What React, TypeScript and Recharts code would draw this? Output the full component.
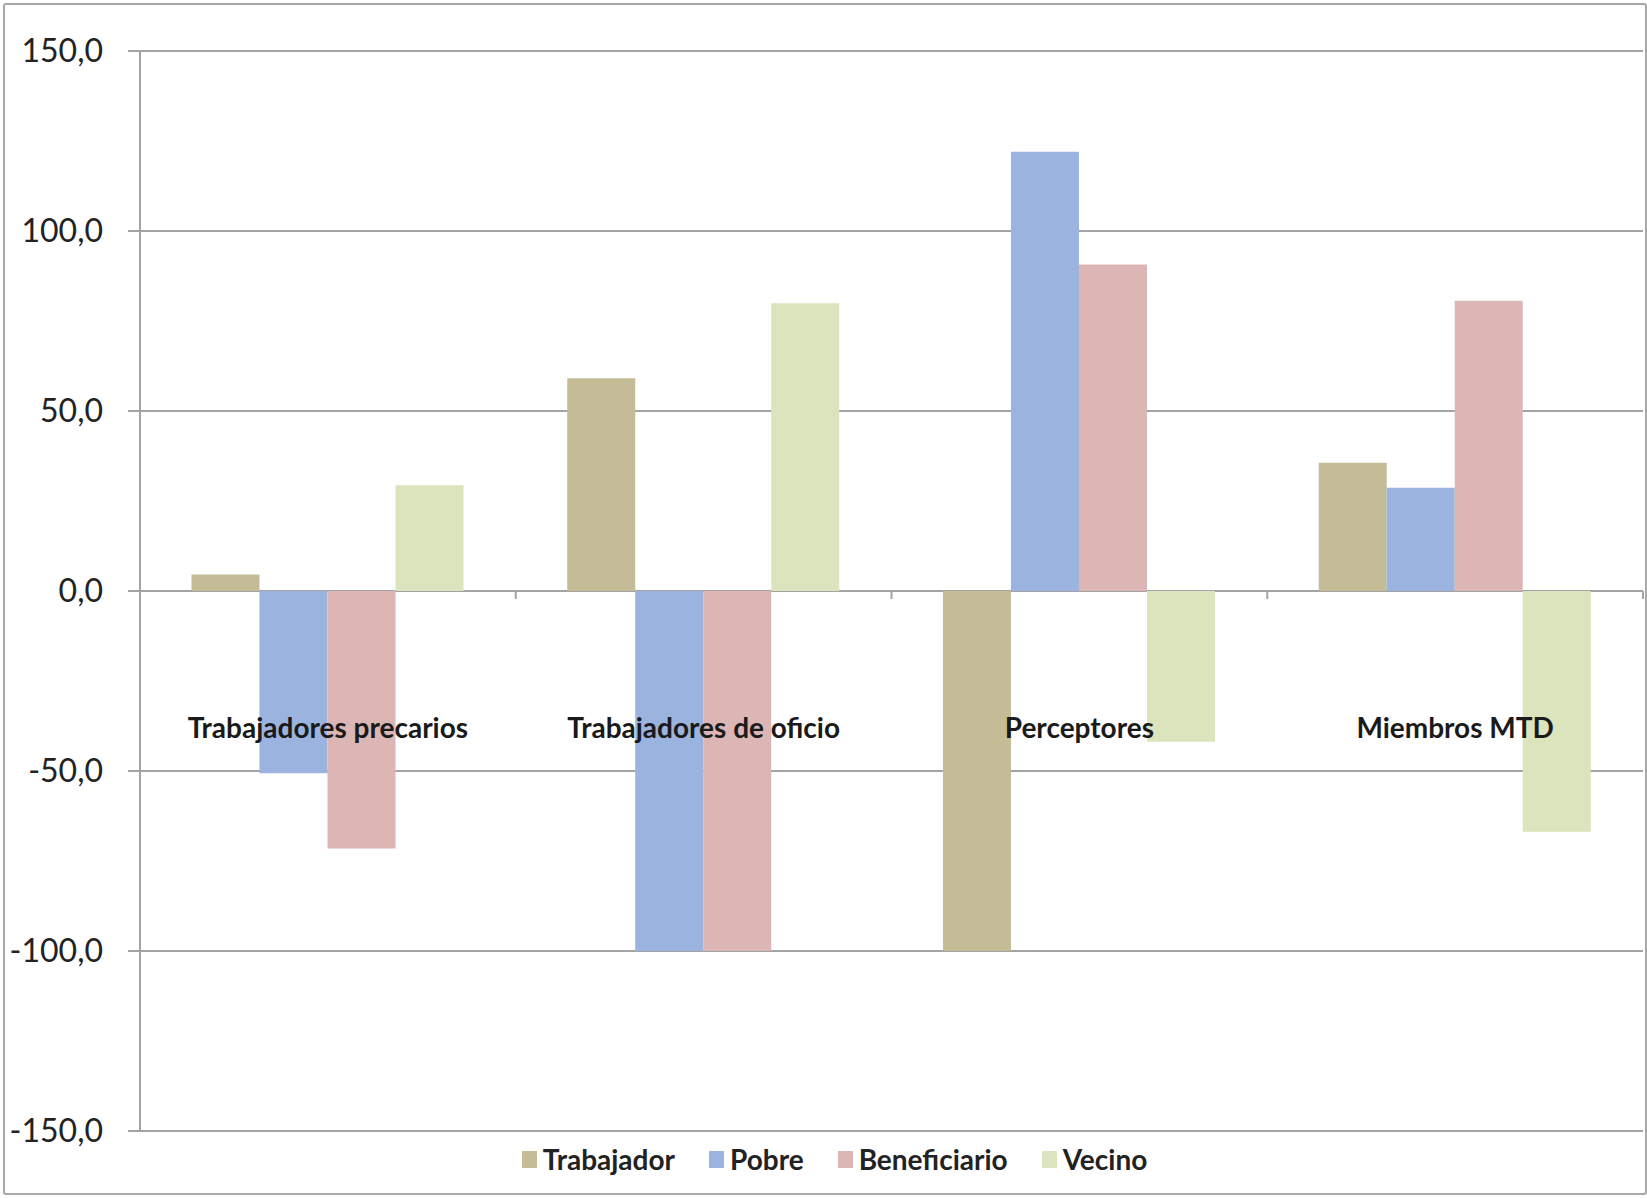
import { BarChart, Bar, XAxis, YAxis, CartesianGrid, Legend, ReferenceDot } from 'recharts'

const CATEGORIES = ['Trabajadores precarios', 'Trabajadores de oficio', 'Perceptores', 'Miembros MTD']
const TRABAJADOR = [4.6, 59.1, -100, 35.6]
const POBRE = [-50.6, -100, 122.0, 28.7]
const BENEFICIARIO = [-71.5, -100, 90.7, 80.6]
const VECINO = [29.4, 79.9, -41.9, -66.9]
const Y_TICKS = [-150, -100, -50, 0, 50, 100, 150]
const LABEL_LEVEL = -38

const SERIES = [
  { key: 'Trabajador', color: '#C4BC96' },
  { key: 'Pobre', color: '#9AB4DF' },
  { key: 'Beneficiario', color: '#DBB6B5' },
  { key: 'Vecino', color: '#DBE4BD' },
]

const data = CATEGORIES.map((name, i) => ({
  name,
  Trabajador: TRABAJADOR[i],
  Pobre: POBRE[i],
  Beneficiario: BENEFICIARIO[i],
  Vecino: VECINO[i],
}))

const WIDTH = 1647
const HEIGHT = 1198
const MARGIN = { top: 51, right: 4, bottom: 67, left: 0 }
const Y_AXIS_W = 140
const HALF_BAND = (WIDTH - MARGIN.left - MARGIN.right - Y_AXIS_W) / CATEGORIES.length / 2

const GRID = '#A3A3A3'
const FONT = 'Lato, "Open Sans", sans-serif'

// small category-boundary tick under the zero line, right edge of each band
const BoundaryTick = ({ cx, cy }: { cx?: number; cy?: number }) => {
  if (cx == null || cy == null) return null
  const x = cx + HALF_BAND
  return <line x1={x} x2={x} y1={cy} y2={cy + 8} stroke={GRID} strokeWidth={2} />
}

const LegendContent = () => (
  <div
    style={{
      display: 'flex',
      justifyContent: 'center',
      alignItems: 'center',
      gap: 34,
      paddingLeft: 22,
      fontFamily: FONT,
      fontWeight: 700,
      fontSize: 28,
      color: '#222',
      lineHeight: '30px',
    }}
  >
    {SERIES.map(s => (
      <div key={s.key} style={{ display: 'flex', alignItems: 'center', gap: 6 }}>
        <div style={{ width: 15, height: 17, background: s.color }} />
        <span>{s.key}</span>
      </div>
    ))}
  </div>
)

const App = () => {
  return (
    <div
      style={{
        position: 'absolute',
        left: 0,
        top: 0,
        width: WIDTH,
        height: HEIGHT,
        background: '#fff',
      }}
    >
      <div
        style={{
          position: 'absolute',
          left: 3,
          top: 3,
          width: 1640,
          height: 1188,
          border: '2px solid #A8A8A8',
          borderRadius: 3,
        }}
      />
      <BarChart
        width={WIDTH}
        height={HEIGHT}
        data={data}
        margin={MARGIN}
        barCategoryGap="13.7%"
        barGap={0}
      >
        <CartesianGrid vertical={false} stroke={GRID} strokeWidth={2} />
        <XAxis dataKey="name" hide />
        <YAxis
          width={Y_AXIS_W}
          domain={[-150, 150]}
          ticks={Y_TICKS}
          interval={0}
          tickFormatter={v => Number(v).toFixed(1).replace('.', ',')}
          tick={{ fill: '#222', fontSize: 32, fontFamily: FONT }}
          tickSize={12}
          tickMargin={25}
          tickLine={{ stroke: GRID, strokeWidth: 2 }}
          axisLine={{ stroke: GRID, strokeWidth: 2 }}
        />
        {SERIES.map(s => (
          <Bar key={s.key} dataKey={s.key} fill={s.color} isAnimationActive={false} />
        ))}
        {CATEGORIES.map(c => (
          <ReferenceDot key={`t-${c}`} x={c} y={0} r={0} shape={<BoundaryTick />} />
        ))}
        {CATEGORIES.map(c => (
          <ReferenceDot
            key={c}
            x={c}
            y={LABEL_LEVEL}
            r={0}
            fill="none"
            stroke="none"
            label={{
              value: c,
              position: 'center',
              fill: '#1a1a1a',
              fontSize: 28,
              fontWeight: 700,
              fontFamily: FONT,
            }}
          />
        ))}
        <Legend
          verticalAlign="middle"
          align="center"
          layout="horizontal"
          content={<LegendContent />}
          wrapperStyle={{ top: 1144, left: 0, width: WIDTH }}
        />
      </BarChart>
    </div>
  )
}

export default App
